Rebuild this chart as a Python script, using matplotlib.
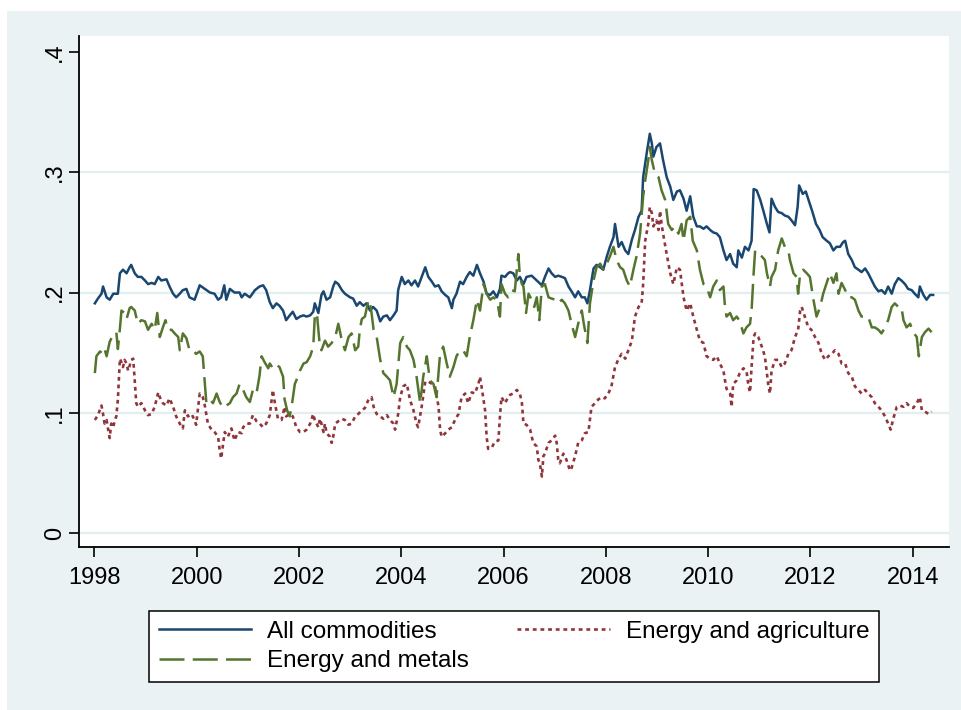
import matplotlib
matplotlib.use("Agg")
import matplotlib.pyplot as plt
from matplotlib.patches import Rectangle

# couleurs type Stata s2color
navy = "#1a476f"
maroon = "#90353b"
forest = "#55752f"
fond = "#eaf2f3"
grille = "#e2eef0"

# --- All commodities ---
all_x = [
    1998.01, 1998.07, 1998.14, 1998.17, 1998.24, 1998.30, 1998.37, 1998.46, 1998.50, 1998.56,
    1998.63, 1998.69, 1998.72, 1998.79, 1998.85, 1998.92, 1998.99, 1999.05, 1999.12, 1999.18,
    1999.25, 1999.31, 1999.41, 1999.47, 1999.54, 1999.60, 1999.67, 1999.73, 1999.80, 1999.86,
    1999.96, 2000.06, 2000.16, 2000.26, 2000.35, 2000.42, 2000.48, 2000.54, 2000.58, 2000.65,
    2000.74, 2000.84, 2000.88, 2000.94, 2001.04, 2001.14, 2001.23, 2001.30, 2001.36, 2001.43,
    2001.49, 2001.56, 2001.62, 2001.69, 2001.75, 2001.82, 2001.88, 2001.95,
    2002.02, 2002.09, 2002.15, 2002.22, 2002.28, 2002.31, 2002.38, 2002.44, 2002.48, 2002.54,
    2002.61, 2002.67, 2002.71, 2002.77, 2002.84, 2002.90, 2003.00, 2003.06, 2003.13, 2003.19,
    2003.26, 2003.32, 2003.39, 2003.45, 2003.52, 2003.59, 2003.65, 2003.72, 2003.78, 2003.85,
    2003.91, 2003.94, 2004.01, 2004.07, 2004.14, 2004.20, 2004.27, 2004.33, 2004.40, 2004.47,
    2004.53, 2004.60, 2004.66, 2004.73, 2004.79, 2004.86, 2004.92, 2004.99, 2005.02, 2005.08,
    2005.15, 2005.21, 2005.28, 2005.34, 2005.41, 2005.48, 2005.54, 2005.61, 2005.67, 2005.74,
    2005.80, 2005.87, 2005.93, 2005.96, 2006.03, 2006.09,
    2006.13, 2006.19, 2006.26, 2006.32, 2006.39, 2006.45, 2006.55, 2006.65, 2006.75, 2006.81,
    2006.88, 2006.94, 2007.01, 2007.07, 2007.14, 2007.20, 2007.27, 2007.33, 2007.40, 2007.46,
    2007.53, 2007.59, 2007.64, 2007.69, 2007.76, 2007.82, 2007.89, 2007.95, 2008.02, 2008.08,
    2008.15, 2008.18, 2008.25, 2008.31, 2008.38, 2008.44, 2008.51, 2008.57, 2008.64, 2008.70,
    2008.73, 2008.80, 2008.86, 2008.90, 2008.93, 2008.99, 2009.06, 2009.12, 2009.19, 2009.26,
    2009.32, 2009.39, 2009.45, 2009.52, 2009.58, 2009.65, 2009.71, 2009.78, 2009.84, 2009.91,
    2009.97, 2010.04, 2010.10, 2010.17,
    2010.23, 2010.30, 2010.36, 2010.43, 2010.49, 2010.56, 2010.59, 2010.66, 2010.72, 2010.79,
    2010.85, 2010.89, 2010.95, 2011.02, 2011.08, 2011.15, 2011.20, 2011.24, 2011.31, 2011.37,
    2011.44, 2011.50, 2011.57, 2011.63, 2011.70, 2011.75, 2011.78, 2011.85, 2011.91, 2011.98,
    2012.04, 2012.11, 2012.18, 2012.24, 2012.32, 2012.38, 2012.45, 2012.51, 2012.58, 2012.64,
    2012.68, 2012.74, 2012.81, 2012.87, 2012.94, 2013.00, 2013.07, 2013.13, 2013.20, 2013.26,
    2013.33, 2013.39, 2013.46, 2013.52, 2013.59, 2013.65, 2013.72, 2013.78, 2013.85, 2013.91,
    2013.98, 2014.04, 2014.11, 2014.14, 2014.21, 2014.27, 2014.34, 2014.40,
]
all_y = [
    .191, .195, .199, .205, .196, .194, .199, .199, .216, .219,
    .216, .221, .223, .216, .213, .213, .210, .207, .208, .207,
    .213, .210, .211, .205, .199, .196, .199, .202, .203, .196,
    .194, .206, .203, .200, .199, .194, .196, .206, .194, .203,
    .200, .200, .196, .199, .196, .202, .205, .206, .202, .192,
    .187, .191, .189, .185, .177, .181, .184, .178,
    .180, .181, .180, .181, .184, .191, .183, .198, .201, .194,
    .196, .205, .209, .207, .202, .199, .196, .195, .189, .192,
    .189, .191, .185, .188, .185, .176, .180, .181, .177, .181,
    .185, .202, .213, .207, .210, .206, .210, .205, .213, .221,
    .213, .209, .205, .206, .201, .198, .196, .187, .194, .199,
    .209, .207, .213, .217, .214, .223, .216, .209, .199, .198,
    .201, .196, .203, .214, .213, .216,
    .217, .216, .210, .213, .207, .213, .214, .210, .206, .213,
    .220, .216, .213, .214, .213, .212, .205, .201, .196, .201,
    .196, .196, .191, .202, .220, .223, .221, .219, .230, .238,
    .246, .257, .238, .242, .235, .232, .244, .252, .263, .268,
    .296, .316, .332, .324, .313, .321, .324, .310, .296, .288,
    .277, .284, .285, .278, .268, .280, .263, .255, .255, .253,
    .255, .252, .250, .249,
    .246, .235, .227, .232, .224, .221, .235, .229, .238, .235,
    .243, .286, .285, .277, .268, .257, .250, .278, .271, .267,
    .266, .264, .263, .260, .256, .271, .289, .282, .284, .275,
    .267, .257, .252, .246, .243, .241, .235, .238, .238, .242,
    .243, .232, .227, .221, .219, .217, .220, .216, .210, .205,
    .201, .202, .199, .205, .199, .207, .212, .210, .207, .203,
    .202, .199, .196, .205, .198, .194, .198, .198,
]

# --- Energy and metals ---
met_x = [
    1998.01, 1998.04, 1998.11, 1998.17, 1998.20, 1998.24, 1998.30, 1998.37, 1998.43, 1998.46,
    1998.50, 1998.53, 1998.59, 1998.63, 1998.69, 1998.72, 1998.79, 1998.85, 1998.92, 1998.99,
    1999.05, 1999.12, 1999.18, 1999.23, 1999.28, 1999.34, 1999.39, 1999.44, 1999.51, 1999.57,
    1999.64, 1999.67, 1999.73, 1999.80, 1999.86, 1999.93, 1999.99, 2000.06, 2000.12, 2000.16,
    2000.19, 2000.26, 2000.32, 2000.39, 2000.45, 2000.52, 2000.58, 2000.65, 2000.71, 2000.78,
    2000.84, 2000.91, 2000.97, 2001.04, 2001.10, 2001.17, 2001.23, 2001.27, 2001.33, 2001.40,
    2001.43, 2001.49, 2001.56, 2001.62, 2001.69, 2001.72, 2001.77, 2001.82, 2001.87, 2001.92,
    2001.98,
    2002.02, 2002.09, 2002.15, 2002.22, 2002.28, 2002.31, 2002.35, 2002.38, 2002.41, 2002.44,
    2002.51, 2002.57, 2002.64, 2002.71, 2002.77, 2002.84, 2002.90, 2002.97, 2003.03, 2003.10,
    2003.16, 2003.19, 2003.23, 2003.29, 2003.36, 2003.39, 2003.42, 2003.46, 2003.52, 2003.59,
    2003.65, 2003.72, 2003.78, 2003.85, 2003.91, 2003.98, 2004.04, 2004.11, 2004.17, 2004.24,
    2004.30, 2004.37, 2004.43, 2004.50, 2004.56, 2004.63, 2004.69, 2004.76, 2004.82, 2004.89,
    2004.95, 2005.02, 2005.08, 2005.15, 2005.21, 2005.28, 2005.31, 2005.34, 2005.41, 2005.48,
    2005.54, 2005.61, 2005.67, 2005.74, 2005.80, 2005.87, 2005.93, 2005.96, 2006.03, 2006.09,
    2006.13, 2006.16, 2006.22, 2006.29, 2006.32, 2006.36, 2006.39, 2006.44, 2006.49, 2006.55,
    2006.60, 2006.65, 2006.70, 2006.75, 2006.81, 2006.88, 2006.94, 2007.01, 2007.07, 2007.14,
    2007.20, 2007.27, 2007.33, 2007.40, 2007.46, 2007.53, 2007.57, 2007.64, 2007.69, 2007.76,
    2007.82, 2007.89, 2007.95, 2008.02, 2008.08, 2008.15, 2008.21, 2008.28, 2008.34, 2008.41,
    2008.47, 2008.54, 2008.60, 2008.67, 2008.73, 2008.77, 2008.83, 2008.86, 2008.90, 2008.96,
    2009.03, 2009.09, 2009.16, 2009.22, 2009.29, 2009.35, 2009.42, 2009.48, 2009.52, 2009.58,
    2009.65, 2009.70, 2009.78, 2009.84, 2009.91, 2009.97, 2010.04, 2010.10, 2010.17,
    2010.23, 2010.30, 2010.33, 2010.36, 2010.43, 2010.49, 2010.56, 2010.62, 2010.69, 2010.75,
    2010.82, 2010.85, 2010.89, 2010.92, 2010.98, 2011.05, 2011.11, 2011.15, 2011.21, 2011.24,
    2011.31, 2011.37, 2011.44, 2011.50, 2011.57, 2011.60, 2011.67, 2011.73, 2011.76, 2011.80,
    2011.86, 2011.93, 2011.99, 2012.06, 2012.12, 2012.19, 2012.25, 2012.32, 2012.38, 2012.45,
    2012.51, 2012.55, 2012.61, 2012.68, 2012.74, 2012.81, 2012.87, 2012.94, 2013.00, 2013.07,
    2013.13, 2013.20, 2013.26, 2013.33, 2013.39, 2013.46, 2013.52, 2013.59, 2013.65, 2013.72,
    2013.78, 2013.82, 2013.88, 2013.95, 2014.01, 2014.08, 2014.12, 2014.18, 2014.24, 2014.31,
    2014.37,
]
met_y = [
    .133, .147, .151, .149, .153, .147, .159, .165, .167, .153,
    .170, .185, .183, .178, .187, .188, .185, .174, .177, .176,
    .169, .174, .169, .183, .163, .171, .177, .169, .169, .166,
    .163, .152, .166, .162, .152, .152, .149, .151, .147, .124,
    .108, .111, .108, .116, .109, .104, .106, .108, .113, .116,
    .124, .119, .113, .109, .119, .116, .131, .147, .142, .137,
    .141, .137, .140, .138, .130, .111, .102, .097, .109, .124,
    .130,
    .135, .141, .142, .147, .155, .180, .183, .169, .155, .152,
    .160, .155, .158, .163, .174, .160, .152, .163, .166, .152,
    .155, .169, .178, .180, .194, .191, .183, .169, .163, .144,
    .133, .130, .127, .113, .124, .158, .163, .155, .152, .144,
    .130, .108, .130, .147, .127, .124, .113, .149, .155, .141,
    .130, .138, .147, .152, .152, .147, .155, .163, .177, .194,
    .185, .207, .199, .194, .196, .194, .180, .207, .199, .196,
    .199, .202, .201, .232, .213, .207, .205, .183, .199, .194,
    .188, .196, .177, .205, .207, .196, .195, .194, .191, .194,
    .191, .185, .174, .163, .174, .185, .174, .158, .191, .210,
    .221, .224, .219, .224, .230, .238, .227, .221, .219, .210,
    .205, .219, .230, .249, .280, .293, .310, .321, .310, .299,
    .296, .285, .277, .257, .252, .255, .249, .257, .243, .260,
    .263, .243, .235, .219, .207, .205, .196, .205, .210,
    .202, .205, .188, .180, .183, .177, .180, .176, .166, .171,
    .174, .185, .216, .235, .232, .230, .227, .216, .205, .213,
    .219, .235, .245, .238, .235, .227, .216, .213, .199, .216,
    .219, .216, .213, .194, .180, .188, .199, .208, .216, .208,
    .216, .199, .208, .202, .196, .196, .194, .185, .180, .180,
    .180, .171, .171, .169, .166, .171, .177, .188, .191, .188,
    .188, .177, .171, .174, .167, .163, .147, .163, .167, .170,
    .167,
]

# --- Energy and agriculture ---
agr_x = [
    1998.01, 1998.07, 1998.14, 1998.17, 1998.20, 1998.24, 1998.27, 1998.30, 1998.33, 1998.37,
    1998.40, 1998.43, 1998.46, 1998.50, 1998.53, 1998.56, 1998.59, 1998.63, 1998.66, 1998.69,
    1998.72, 1998.76, 1998.79, 1998.82, 1998.85, 1998.92, 1998.99, 1999.05, 1999.12, 1999.18,
    1999.25, 1999.28, 1999.34, 1999.41, 1999.47, 1999.54, 1999.60, 1999.67, 1999.73, 1999.77,
    1999.83, 1999.90, 1999.96, 1999.99, 2000.06, 2000.12, 2000.16, 2000.22, 2000.29, 2000.35,
    2000.42, 2000.45, 2000.48, 2000.52, 2000.55, 2000.61, 2000.68, 2000.74, 2000.81, 2000.88,
    2000.91, 2000.97, 2001.04, 2001.10, 2001.17, 2001.23, 2001.30, 2001.36, 2001.43, 2001.49,
    2001.53, 2001.59, 2001.66, 2001.72, 2001.75, 2001.82, 2001.88, 2001.95,
    2002.02, 2002.09, 2002.15, 2002.22, 2002.28, 2002.31, 2002.38, 2002.41, 2002.44, 2002.48,
    2002.51, 2002.54, 2002.61, 2002.64, 2002.67, 2002.71, 2002.77, 2002.84, 2002.90, 2002.97,
    2003.03, 2003.10, 2003.16, 2003.23, 2003.29, 2003.36, 2003.42, 2003.46, 2003.52, 2003.59,
    2003.65, 2003.72, 2003.78, 2003.85, 2003.88, 2003.94, 2003.98, 2004.04, 2004.11, 2004.17,
    2004.24, 2004.30, 2004.33, 2004.40, 2004.47, 2004.53, 2004.60, 2004.66, 2004.73, 2004.76,
    2004.79, 2004.86, 2004.92, 2004.99, 2005.05, 2005.12, 2005.18, 2005.25, 2005.31, 2005.38,
    2005.44, 2005.51, 2005.54, 2005.57, 2005.64, 2005.67, 2005.70, 2005.77, 2005.83, 2005.90,
    2005.93, 2005.96, 2006.03, 2006.09,
    2006.13, 2006.19, 2006.26, 2006.32, 2006.36, 2006.39, 2006.45, 2006.52, 2006.58, 2006.65,
    2006.68, 2006.71, 2006.75, 2006.78, 2006.81, 2006.88, 2006.94, 2007.01, 2007.04, 2007.07,
    2007.10, 2007.17, 2007.23, 2007.30, 2007.33, 2007.40, 2007.46, 2007.53, 2007.59, 2007.66,
    2007.72, 2007.79, 2007.85, 2007.92, 2007.98, 2008.05, 2008.11, 2008.18, 2008.25, 2008.31,
    2008.38, 2008.44, 2008.51, 2008.57, 2008.64, 2008.70, 2008.73, 2008.77, 2008.83, 2008.86,
    2008.90, 2008.93, 2008.99, 2009.03, 2009.06, 2009.09, 2009.12, 2009.19, 2009.26, 2009.32,
    2009.39, 2009.45, 2009.52, 2009.58, 2009.65, 2009.71, 2009.78, 2009.84, 2009.91, 2009.97,
    2010.04, 2010.10, 2010.17,
    2010.23, 2010.30, 2010.33, 2010.36, 2010.43, 2010.46, 2010.49, 2010.56, 2010.62, 2010.69,
    2010.75, 2010.79, 2010.82, 2010.85, 2010.89, 2010.92, 2010.98, 2011.05, 2011.11, 2011.15,
    2011.18, 2011.21, 2011.24, 2011.31, 2011.37, 2011.44, 2011.50, 2011.57, 2011.63, 2011.70,
    2011.76, 2011.80, 2011.83, 2011.89, 2011.96, 2012.02, 2012.09, 2012.16, 2012.22, 2012.29,
    2012.35, 2012.42, 2012.48, 2012.55, 2012.61, 2012.68, 2012.74, 2012.81, 2012.87, 2012.94,
    2013.00, 2013.07, 2013.13, 2013.20, 2013.26, 2013.33, 2013.39, 2013.46, 2013.52, 2013.57,
    2013.62, 2013.69, 2013.75, 2013.82, 2013.88, 2013.95, 2014.01, 2014.08, 2014.14, 2014.18,
    2014.24, 2014.31, 2014.37,
]
agr_y = [
    .094, .098, .106, .099, .091, .094, .086, .079, .091, .088,
    .094, .097, .111, .145, .142, .138, .144, .141, .135, .139,
    .144, .145, .127, .108, .105, .108, .102, .098, .099, .105,
    .117, .113, .108, .106, .112, .105, .097, .091, .087, .102,
    .097, .099, .094, .090, .116, .113, .106, .091, .086, .084,
    .080, .069, .062, .075, .084, .080, .087, .077, .084, .083,
    .088, .091, .091, .098, .093, .091, .088, .091, .098, .119,
    .108, .095, .094, .105, .097, .099, .097, .088,
    .084, .084, .086, .091, .099, .094, .088, .095, .091, .084,
    .091, .083, .080, .075, .080, .091, .093, .095, .094, .090,
    .091, .097, .099, .102, .104, .111, .113, .105, .099, .097,
    .095, .098, .094, .091, .086, .099, .113, .122, .124, .111,
    .102, .091, .088, .105, .126, .126, .124, .122, .105, .086,
    .080, .083, .086, .088, .094, .099, .113, .116, .108, .117,
    .116, .124, .130, .122, .102, .080, .070, .071, .076, .077,
    .097, .113, .108, .113,
    .115, .116, .119, .116, .108, .091, .090, .086, .075, .072,
    .061, .058, .047, .064, .066, .075, .077, .081, .075, .061,
    .058, .066, .061, .052, .054, .064, .075, .077, .083, .084,
    .105, .108, .111, .113, .112, .116, .122, .138, .145, .149,
    .145, .152, .160, .180, .188, .191, .207, .243, .257, .271,
    .266, .255, .260, .252, .268, .257, .249, .232, .216, .207,
    .221, .219, .196, .185, .191, .180, .169, .160, .158, .147,
    .145, .144, .147,
    .141, .135, .127, .120, .116, .105, .124, .127, .133, .137,
    .135, .122, .117, .138, .163, .166, .163, .155, .147, .133,
    .122, .116, .135, .144, .144, .138, .141, .149, .152, .163,
    .169, .185, .188, .180, .171, .169, .163, .158, .149, .144,
    .147, .149, .152, .149, .141, .141, .133, .130, .122, .119,
    .116, .119, .116, .113, .108, .105, .102, .097, .091, .086,
    .095, .105, .106, .105, .108, .105, .104, .108, .113, .102,
    .101, .099, .101,
]

xticks = [1998, 2000, 2002, 2004, 2006, 2008, 2010, 2012, 2014]
yticks = [0, .1, .2, .3, .4]
ylabels = ["0", ".1", ".2", ".3", ".4"]

plt.rcParams['font.family'] = ['Liberation Sans', 'DejaVu Sans']

W, H = 961, 710
fig = plt.figure(figsize=(W / 100, H / 100), dpi=100, facecolor="white")
# zone grise-bleue du graphique (petite marge blanche en haut et a gauche)
fig.patches.append(Rectangle((7 / W, 0), 1 - 7 / W, (H - 11) / H,
                             transform=fig.transFigure, facecolor=fond,
                             edgecolor="none", zorder=-10))

ax = fig.add_axes([79 / W, (H - 547) / H, (949 - 79) / W, (547 - 36) / H])
ax.set_facecolor("white")

for g in [0, .1, .2, .3]:
    ax.axhline(g, color=grille, lw=1.6, zorder=0)

l1, = ax.plot(all_x, all_y, color=navy, lw=1.8, label="All commodities")
l3, = ax.plot(agr_x, agr_y, color=maroon, lw=1.9, dashes=(1.45, 1.45),
              label="Energy and agriculture")
l2, = ax.plot(met_x, met_y, color=forest, lw=1.8, dashes=(10, 3.3),
              label="Energy and metals")

ax.set_xlim(1997.7, 2014.71)
ax.set_ylim(-0.0116, 0.4133)
ax.set_xticks(xticks)
ax.set_xticklabels([str(t) for t in xticks])
ax.set_yticks(yticks)
ax.set_yticklabels(ylabels, rotation=90, va="center")

for s in ["top", "right"]:
    ax.spines[s].set_visible(False)
for s in ["left", "bottom"]:
    ax.spines[s].set_linewidth(1.3)
    ax.spines[s].set_color("black")

ax.tick_params(axis="both", direction="out", length=7.5, width=1.2,
               labelsize=17, colors="black")
ax.tick_params(axis="x", pad=7)
ax.tick_params(axis="y", pad=2)

leg = fig.legend(handles=[l1, l2, l3], ncol=2, loc="lower left",
                 bbox_to_anchor=(149 / W, 28 / H, 730 / W, 79 / H),
                 mode="expand", borderaxespad=0, fontsize=17.5,
                 handlelength=3.8, handletextpad=0.65, labelspacing=0.3,
                 borderpad=0.4, fancybox=False, framealpha=1,
                 edgecolor="black", facecolor="white")
leg.get_frame().set_linewidth(1.1)

fig.savefig("out.png", dpi=100, facecolor=fig.get_facecolor())
